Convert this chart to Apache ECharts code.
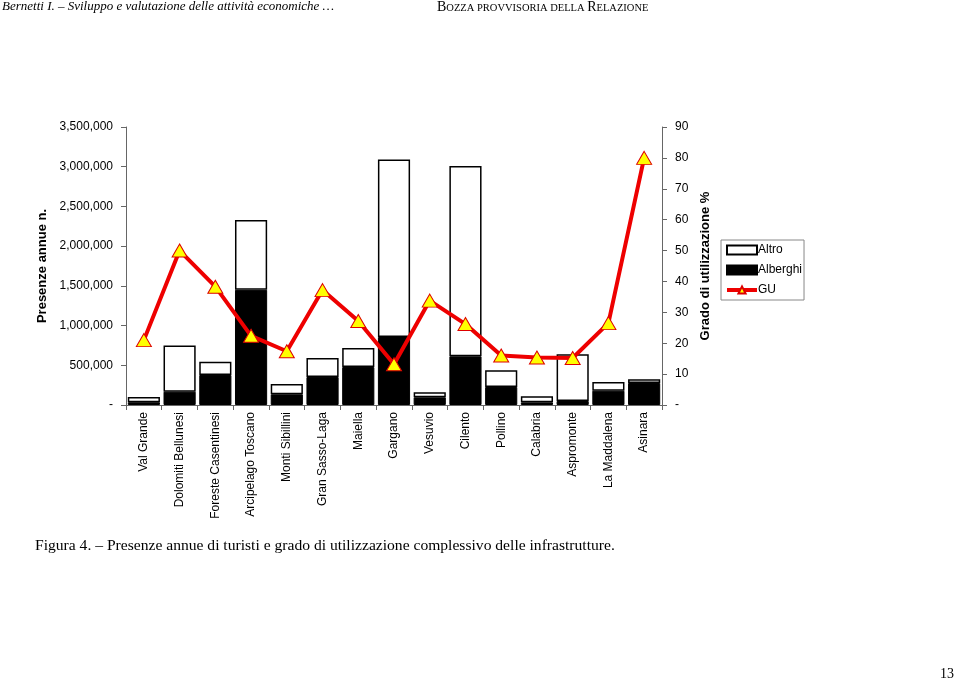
<!DOCTYPE html>
<html><head><meta charset="utf-8">
<script src="https://cdn.jsdelivr.net/npm/echarts@6/dist/echarts.min.js"></script>
<style>html,body{margin:0;padding:0;background:#fff}#c{width:960px;height:682px}</style>
</head><body><div id="c"></div>
<script>
var categories = ['Val Grande','Dolomiti Bellunesi','Foreste Casentinesi','Arcipelago Toscano','Monti Sibillini','Gran Sasso-Laga','Maiella','Gargano','Vesuvio','Cilento','Pollino','Calabria','Aspromonte','La Maddalena','Asinara'];
var alberghi = [35000,168000,378000,1450000,135000,353000,478000,856000,97000,613000,227000,34000,50000,180000,277000];
var altro = [65000,582000,167000,880000,130000,239000,240000,2234000,63000,2397000,210000,76000,588000,110000,47000];
var gu = [21,50,38.3,22.4,17.4,37.2,27.2,13.2,33.8,26.2,16,15.4,15.2,26.5,80];

var chart = echarts.init(document.getElementById('c'), null, {renderer:'canvas'});
var axisLine = {show:true, lineStyle:{color:'#666', width:1}};
var lblFont = {fontFamily:'Liberation Sans, Arial, sans-serif', fontSize:12, color:'#000'};
chart.setOption({
  animation:false,
  backgroundColor:'#fff',
  grid:{left:126, right:298, top:127, bottom:277},
  legend:{
    orient:'vertical', left:721, top:240,
    data:[{name:'Altro', icon:'rect'},{name:'Alberghi', icon:'rect'},{name:'GU', lineStyle:{width:4}}],
    itemWidth:30, itemHeight:9, itemGap:8,
    padding:[4,2,4,4],
    borderColor:'#888', borderWidth:1,
    textStyle:{fontFamily:'Liberation Sans, Arial, sans-serif', fontSize:12, color:'#000', padding:[0,0,0,-4]}
  },
  xAxis:{
    type:'category', data:categories,
    axisLine:axisLine,
    axisTick:{show:true, length:5, lineStyle:{color:'#666'}},
    axisLabel:Object.assign({rotate:90, interval:0, margin:7}, lblFont)
  },
  yAxis:[{
    type:'value', min:0, max:3500000, interval:500000, position:'left',
    name:'Presenze annue n.', nameLocation:'middle', nameGap:57,
    nameTextStyle:{fontFamily:'Liberation Sans, Arial, sans-serif', fontSize:13, fontWeight:'bold', color:'#000'},
    splitLine:{show:false}, axisLine:axisLine,
    axisTick:{show:true, length:5, lineStyle:{color:'#666'}},
    axisLabel:Object.assign({margin:13, formatter:function(v){return v===0?'-':v.toLocaleString('en-US');}}, lblFont)
  },{
    type:'value', min:0, max:90, interval:10, position:'right',
    name:'Grado di utilizzazione %', nameLocation:'middle', nameGap:30,
    nameTextStyle:{fontFamily:'Liberation Sans, Arial, sans-serif', fontSize:13, fontWeight:'bold', color:'#000'},
    splitLine:{show:false}, axisLine:axisLine,
    axisTick:{show:true, length:5, lineStyle:{color:'#666'}},
    axisLabel:Object.assign({margin:13, formatter:function(v){return v===0?'-':String(v);}}, lblFont)
  }],
  series:[
    {name:'Alberghi', type:'bar', stack:'p', data:alberghi, barCategoryGap:'10%',
     itemStyle:{color:'#000', borderColor:'#000', borderWidth:1}},
    {name:'Altro', type:'bar', stack:'p', data:altro, barCategoryGap:'10%',
     itemStyle:{color:'#fff', borderColor:'#000', borderWidth:1.5}},
    {name:'GU', type:'line', yAxisIndex:1, data:gu, z:5,
     lineStyle:{color:'#ee0000', width:4},
     symbol:'triangle', symbolSize:[15,13],
     itemStyle:{color:'#ffff00', borderColor:'#dd0000', borderWidth:1}}
  ],
  graphic:[
    {type:'text', left:2, top:0, style:{text:'Bernetti I. – Sviluppo e valutazione delle attività economiche …', font:'italic 13px "Liberation Serif", "Times New Roman", serif', fill:'#000'}},
    {type:'text', left:437, top:0, style:{
      text:'{b|B}{s|OZZA PROVVISORIA DELLA }{b|R}{s|ELAZIONE}',
      rich:{b:{fontFamily:'Liberation Serif, serif', fontSize:14, color:'#000', verticalAlign:'bottom'}, s:{fontFamily:'Liberation Serif, serif', fontSize:10.5, color:'#000', verticalAlign:'bottom'}}
    }},
    {type:'text', left:35, top:538, style:{text:'Figura 4. – Presenze annue di turisti e grado di utilizzazione complessivo delle infrastrutture.', font:'15.6px "Liberation Serif", "Times New Roman", serif', fill:'#000'}},
    {type:'text', left:940, top:667, style:{text:'13', font:'14px "Liberation Serif", "Times New Roman", serif', fill:'#000'}}
  ]
});
</script></body></html>
